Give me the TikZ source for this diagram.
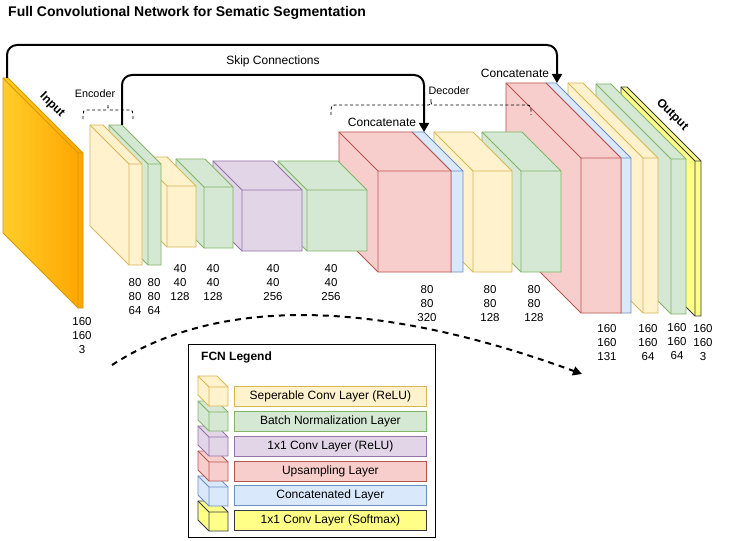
\documentclass[tikz,border=0pt]{standalone}
\usepackage{fontspec}
\setmainfont{Liberation Sans}
\usetikzlibrary{arrows.meta}
\definecolor{ylwF}{HTML}{FFF2CC}\definecolor{ylwS}{HTML}{D6B656}
\definecolor{grnF}{HTML}{D5E8D4}\definecolor{grnS}{HTML}{82B366}
\definecolor{purF}{HTML}{E1D5E7}\definecolor{purS}{HTML}{9673A6}
\definecolor{redF}{HTML}{F8CECC}\definecolor{redS}{HTML}{B85450}
\definecolor{bluF}{HTML}{DAE8FC}\definecolor{bluS}{HTML}{6C8EBF}
\definecolor{brtF}{HTML}{FFFF88}\definecolor{brtS}{HTML}{36393D}
\definecolor{inL}{HTML}{FFCD28}\definecolor{inR}{HTML}{FFA500}\definecolor{inS}{HTML}{D79B00}
% #1 fx, #2 fy, #3 w, #4 h, #5 depth, #6 fill options, #7 stroke colour
\newcommand{\fcncube}[7]{%
  \path[#6, draw=#7, line width=0.8pt, line join=miter] (#1-#5,#2-#5) -- ++(#3,0) -- ++(#5,#5) -- ++(0,#4) -- ++(-#3,0) -- ++(-#5,-#5) -- cycle;
  \draw[#7, line width=0.8pt] (#1-#5,#2-#5) -- (#1,#2) -- ++(#3,0) (#1,#2) -- ++(0,#4);
}
\newcommand{\fcnbrace}[5]{% x1 x2 ybase yline ytip
  \draw[bracestyle] (#1,#3) .. controls (#1,#4) .. (#1+6,#4) -- ({(#1+#2)/2-5},#4) .. controls ({(#1+#2)/2},#4) .. ({(#1+#2)/2},#5)
     .. controls ({(#1+#2)/2},#4) .. ({(#1+#2)/2+5},#4) -- (#2-6,#4) .. controls (#2,#4) .. (#2,#3);
}
\tikzset{
  dimlbl/.style={align=center, inner sep=0pt, font=\fontsize{11.5}{14}\selectfont},
  txt12/.style={inner sep=0pt, font=\fontsize{12}{14}\selectfont},
  txt11/.style={inner sep=0pt, font=\fontsize{10.8}{13}\selectfont},
  bold12/.style={inner sep=0pt, font=\fontsize{12}{14}\selectfont\bfseries},
  skiparrow/.style={line width=2pt, rounded corners=10pt, -{Triangle[length=9pt,width=10pt]}},
  bracestyle/.style={line width=0.8pt, dash pattern=on 3pt off 2.5pt},
  leglbl/.style={anchor=north west, minimum width=192pt, minimum height=20pt, inner sep=0pt, line width=0.8pt, font=\fontsize{12}{14}\selectfont},
}
\begin{document}
\begin{tikzpicture}[x=1pt,y=-1pt]
\useasboundingbox[fill=white] (0,0) rectangle (735,540);
% title
\node[bold12, font=\fontsize{14}{16}\selectfont\bfseries, anchor=base west] (title) at (8,16.5) {Full Convolutional Network for Sematic Segmentation};
% blocks, right to left
\fcncube{695}{161}{6}{155}{74}{fill=brtF}{brtS}
\fcncube{671}{159}{15}{155}{75}{fill=grnF}{grnS}
\fcncube{643}{158}{15}{155}{75}{fill=ylwF}{ylwS}
\fcncube{621}{158}{10}{155}{75}{fill=bluF}{bluS}
\fcncube{581}{158}{40}{155}{75}{fill=redF}{redS}
\fcncube{521}{171}{40}{101}{39}{fill=grnF}{grnS}
\fcncube{473}{171}{39}{101}{39}{fill=ylwF}{ylwS}
\fcncube{451}{171}{12}{101}{39}{fill=bluF}{bluS}
\fcncube{378}{171}{73}{101}{39}{fill=redF}{redS}
\fcncube{307}{190}{60}{61}{29}{fill=grnF}{grnS}
\fcncube{242}{190}{60}{61}{29}{fill=purF}{purS}
\fcncube{204}{187}{29}{61}{28}{fill=grnF}{grnS}
\fcncube{167}{186}{29}{61}{29}{fill=ylwF}{ylwS}
\fcncube{148}{164}{13}{101}{39}{fill=grnF}{grnS}
\fcncube{129}{164}{13}{101}{39}{fill=ylwF}{ylwS}
\fcncube{78}{153}{5}{155}{75}{left color=inL, right color=inR}{inS}
% rotated labels
\node[bold12, rotate=-45] (inputlbl) at (52,105) {Input};
\node[bold12, rotate=-45] (outputlbl) at (672,115) {Output};
% dimension labels
\node[dimlbl] (d0) at (82,336) {160\\160\\3};
\node[dimlbl] (d1) at (135,297) {80\\80\\64};
\node[dimlbl] (d2) at (154,297) {80\\80\\64};
\node[dimlbl] (d3) at (180,283) {40\\40\\128};
\node[dimlbl] (d4) at (213,283) {40\\40\\128};
\node[dimlbl] (d5) at (273,283) {40\\40\\256};
\node[dimlbl] (d6) at (331,283) {40\\40\\256};
\node[dimlbl] (d7) at (427,304) {80\\80\\320};
\node[dimlbl] (d9) at (490,304) {80\\80\\128};
\node[dimlbl] (d10) at (534,304) {80\\80\\128};
\node[dimlbl] (d11) at (607,343) {160\\160\\131};
\node[dimlbl] (d13) at (648,343) {160\\160\\64};
\node[dimlbl] (d14) at (677,342) {160\\160\\64};
\node[dimlbl] (d15) at (703,343) {160\\160\\3};
% braces
\fcnbrace{83}{133}{119}{110}{104}
\fcnbrace{331}{531}{115}{105}{99}
\node[txt11] (enc) at (95,94) {Encoder};
\node[txt11] (dec) at (449,91) {Decoder};
% skip connections
\coordinate (outA) at (7,78);
\coordinate (outB) at (557,83);
\coordinate (inA) at (122,125);
\coordinate (inB) at (424,132);
\draw[skiparrow] (outA) -- ++(0,-33) -| (outB);
\draw[skiparrow] (inA) -- ++(0,-50) -| (inB);
\node[txt12] (skiplbl) at (273,61) {Skip Connections};
\node[txt12] (cat1) at (382,122) {Concatenate};
\node[txt12] (cat2) at (515,73) {Concatenate};
% dashed arc
\coordinate (arcS) at (112,365);
\coordinate (arcE) at (582,374);
\draw[line width=2pt, dash pattern=on 6pt off 5pt, -{Triangle[length=9pt,width=9pt]}] (arcS) .. controls (220,295) and (380,300) .. (arcE);
% legend
\node[draw, line width=0.8pt, fill=white, anchor=north west, minimum width=247pt, minimum height=193pt, inner sep=0pt] (legend) at (188,344) {};
\node[bold12, anchor=west] (legtitle) at (201,357) {FCN Legend};
\fcncube{209}{512}{19}{19}{11}{fill=brtF}{brtS}
\fcncube{209}{487}{19}{19}{11}{fill=bluF}{bluS}
\fcncube{209}{462}{19}{19}{11}{fill=redF}{redS}
\fcncube{209}{437}{19}{19}{11}{fill=purF}{purS}
\fcncube{209}{412}{19}{19}{11}{fill=grnF}{grnS}
\fcncube{209}{387}{19}{19}{11}{fill=ylwF}{ylwS}
\node[leglbl, fill=ylwF, draw=ylwS] (l1) at (234,386) {Seperable Conv Layer (ReLU)};
\node[leglbl, fill=grnF, draw=grnS] (l2) at (234,410.5) {Batch Normalization Layer};
\node[leglbl, fill=purF, draw=purS] (l3) at (234,435.5) {1x1 Conv Layer (ReLU)};
\node[leglbl, fill=redF, draw=redS] (l4) at (234,460.5) {Upsampling Layer};
\node[leglbl, fill=bluF, draw=bluS] (l5) at (234,485) {Concatenated Layer};
\node[leglbl, fill=brtF, draw=brtS] (l6) at (234,510) {1x1 Conv Layer (Softmax)};
\end{tikzpicture}
\end{document}
